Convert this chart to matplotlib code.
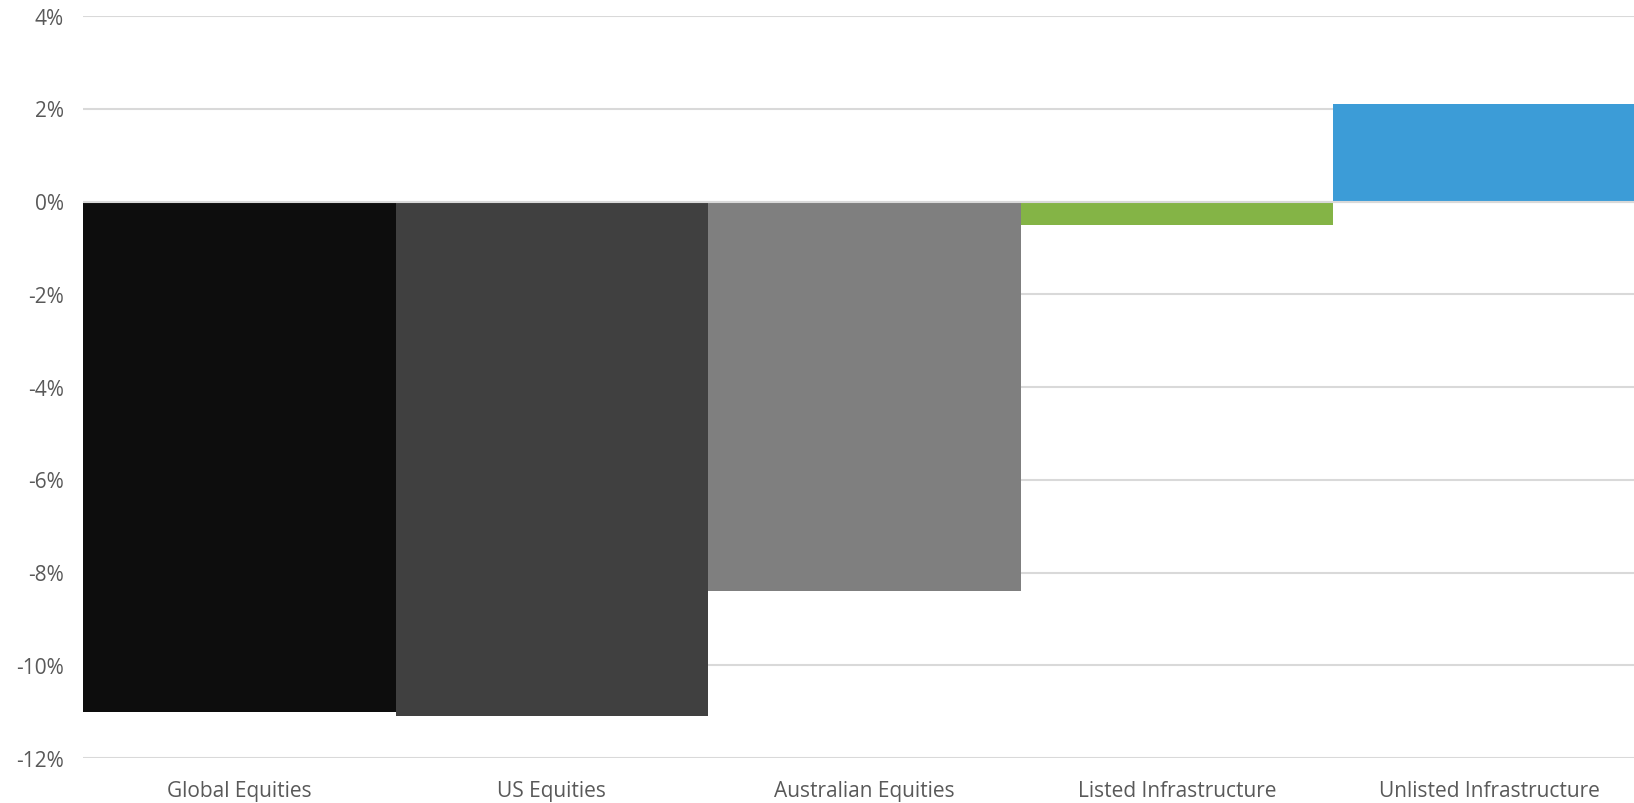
import matplotlib.pyplot as plt
from matplotlib.ticker import FuncFormatter

categories = ["Global Equities", "US Equities", "Australian Equities",
              "Listed Infrastructure", "Unlisted Infrastructure"]
returns = [-11.0, -11.1, -8.4, -0.5, 2.1]
colors = ["#0d0d0d", "#404040", "#7f7f7f", "#84b446", "#3c9cd7"]
yticks = [-12, -10, -8, -6, -4, -2, 0, 2, 4]

plt.rcParams["font.family"] = ["Open Sans", "DejaVu Sans"]

fig = plt.figure(figsize=(16.34, 8.035), dpi=100)
# chart area runs slightly past the right edge, as in the original
ax = fig.add_axes([0.0508, 0.056, 0.9565, 0.9234])

ax.bar(range(len(categories)), returns, width=1.0, color=colors, zorder=2)

ax.set_xlim(-0.5, len(categories) - 0.5)
ax.set_ylim(-12, 4)
ax.set_yticks(yticks)
ax.yaxis.set_major_formatter(FuncFormatter(lambda v, p: f"{v:.0f}%"))
ax.set_xticks(range(len(categories)))
ax.set_xticklabels(categories)

ax.grid(axis="y", color="#d9d9d9", linewidth=1.5, zorder=0)
ax.axhline(0, color="#d9d9d9", linewidth=1.5, zorder=3)
for s in ax.spines.values():
    s.set_visible(False)

ax.tick_params(axis="both", length=0, labelsize=15, colors="#595959")
ax.tick_params(axis="y", pad=14)
ax.tick_params(axis="x", pad=16)

fig.savefig("out.png", dpi=100)
